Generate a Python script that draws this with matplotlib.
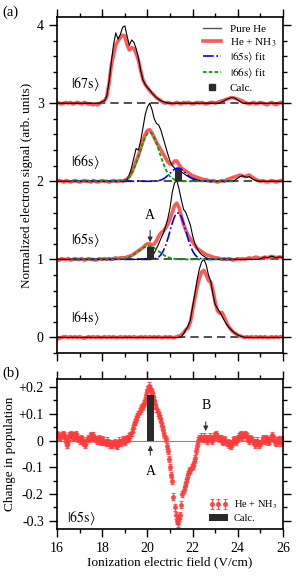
import numpy as np
import matplotlib
matplotlib.use('Agg')
import matplotlib.pyplot as plt
from matplotlib.ticker import MultipleLocator, FixedLocator, FixedFormatter

plt.rcParams['font.family'] = 'serif'
plt.rcParams['font.serif'] = ['Liberation Serif', 'DejaVu Serif']
plt.rcParams['mathtext.fontset'] = 'stix'

# ---- panel (a): field grid, 0.1 V/cm steps
field = np.round(np.linspace(16, 26, 101), 2)
Z = [0.0] * 10

red_67 = [0.01, 0.0, -0.01, 0.0, 0.01, 0.0, 0.01, -0.01, 0.0, 0.01,
          0.0, -0.01, 0.01, 0.0, -0.01, -0.01, -0.02, -0.01, -0.02, 0.0,
          0.02, 0.03, 0.08, 0.25, 0.48, 0.62, 0.75, 0.80, 0.84, 0.87,
          0.86, 0.75, 0.68, 0.71, 0.70, 0.64, 0.55, 0.42, 0.30, 0.24,
          0.20, 0.16, 0.13, 0.10, 0.07, 0.05, 0.03, 0.01, 0.0, 0.01,
          0.0, -0.01, 0.0, 0.01, 0.0, -0.01, 0.01, 0.0, 0.01, 0.0,
          -0.01, 0.0, 0.01, 0.0, 0.01, 0.0, -0.01, 0.0, 0.01, 0.01,
          0.0, 0.01, 0.02, 0.03, 0.04, 0.05, 0.06, 0.07, 0.07, 0.06,
          0.05, 0.04, 0.03, 0.01, 0.0, -0.01, 0.0, 0.01, -0.01, 0.0,
          0.01, 0.0, -0.01, -0.02, 0.0, 0.01, -0.01, -0.02, 0.0, 0.01,
          -0.01]
black_67 = (Z + Z
            + [0.02, 0.03, 0.09, 0.27, 0.52, 0.75, 0.90, 0.82, 0.88, 0.97,
               0.99, 0.86, 0.74, 0.81, 0.78, 0.70, 0.58, 0.42, 0.30, 0.24,
               0.20, 0.17, 0.13, 0.10, 0.07, 0.05, 0.03, 0.02, 0.01, 0.0]
            + Z + Z
            + [0.0, 0.0, 0.0, 0.02, 0.03, 0.05, 0.06, 0.07, 0.07, 0.06,
               0.04, 0.02, 0.0, 0.0, 0.0, 0.0, 0.0, 0.0, 0.0, 0.0]
            + Z + [0.0])

red_66 = [0.0, 0.01, 0.0, -0.01, 0.01, 0.0, -0.01, 0.0, 0.01, 0.0,
          -0.01, 0.0, 0.01, 0.0, 0.0, -0.01, 0.01, 0.0, -0.01, 0.0,
          0.01, 0.0, 0.0, -0.01, 0.0, 0.01, 0.0, 0.0, 0.01, 0.0,
          0.01, 0.03, 0.06, 0.11, 0.18, 0.26, 0.33, 0.42, 0.52, 0.60,
          0.65, 0.66, 0.62, 0.56, 0.50, 0.45, 0.40, 0.35, 0.30, 0.25,
          0.22, 0.22, 0.26, 0.26, 0.21, 0.17, 0.15, 0.13, 0.11, 0.09,
          0.07, 0.06, 0.05, 0.04, 0.03, 0.02, 0.02, 0.01, 0.0, 0.01,
          0.0, -0.01, 0.0, 0.01, 0.0, 0.02, 0.03, 0.04, 0.05, 0.06,
          0.07, 0.08, 0.07, 0.06, 0.07, 0.08, 0.06, 0.04, 0.02, 0.01,
          0.0, 0.01, 0.0, -0.01, 0.0, 0.01, 0.0, -0.01, 0.0, 0.01,
          0.0]
black_66 = (Z + Z + Z
            + [0.0, 0.02, 0.08, 0.18, 0.30, 0.42, 0.40, 0.52, 0.68, 0.85,
               0.95, 1.00, 0.92, 0.80, 0.74, 0.72, 0.65, 0.55, 0.45, 0.35,
               0.26, 0.20, 0.17, 0.15, 0.14, 0.12, 0.10, 0.08, 0.06, 0.05,
               0.04, 0.03, 0.02, 0.01, 0.0, 0.0, 0.0, 0.0, 0.0, 0.0,
               0.0, 0.0, 0.0, 0.0, 0.0, 0.0, 0.0, 0.0, 0.0, 0.02,
               0.04, 0.06, 0.07, 0.06, 0.05, 0.06, 0.04, 0.02, 0.01, 0.0]
            + Z + [0.0])

red_65 = [0.0, -0.01, 0.01, 0.0, 0.0, 0.01, -0.01, 0.0, 0.01, 0.0,
          0.0, 0.01, -0.01, 0.0, 0.01, 0.0, 0.0, -0.01, 0.0, 0.01,
          0.0, 0.01, 0.0, 0.01, 0.0, 0.01, 0.02, 0.01, 0.02, 0.02,
          0.02, 0.03, 0.04, 0.05, 0.07, 0.09, 0.11, 0.13, 0.15, 0.18,
          0.20, 0.20, 0.18, 0.20, 0.24, 0.30, 0.34, 0.36, 0.40, 0.45,
          0.52, 0.60, 0.69, 0.72, 0.66, 0.55, 0.45, 0.37, 0.31, 0.26,
          0.22, 0.18, 0.14, 0.12, 0.10, 0.08, 0.06, 0.05, 0.04, 0.03,
          0.02, 0.02, 0.01, 0.0, 0.01, 0.0, 0.01, 0.0, -0.01, 0.0,
          0.01, 0.0, 0.01, 0.0, 0.01, 0.02, 0.01, 0.02, 0.03, 0.02,
          0.01, 0.02, 0.03, 0.02, 0.03, 0.04, 0.03, 0.02, 0.03, 0.03,
          0.02]
black_65 = (Z + Z + Z
            + [0.0, 0.0, 0.0, 0.0, 0.0, 0.0, 0.0, 0.0, 0.0, 0.01,
               0.01, 0.02, 0.04, 0.08, 0.14, 0.20, 0.27, 0.33, 0.42, 0.52,
               0.66, 0.86, 0.98, 1.01, 0.90, 0.76, 0.64, 0.60, 0.52, 0.44,
               0.30, 0.20, 0.14, 0.09, 0.06, 0.04, 0.02, 0.01, 0.0, 0.0]
            + Z + Z
            + [0.01, 0.02, 0.03, 0.02, 0.03, 0.04, 0.03, 0.02, 0.03, 0.03,
               0.02])

red_64 = [-0.02, -0.01, 0.0, 0.01, 0.01, 0.0, 0.01, 0.0, 0.01, 0.0,
          0.01, 0.0, -0.01, 0.0, 0.01, 0.0, 0.01, 0.0, 0.01, 0.0,
          0.0, 0.01, 0.0, 0.01, 0.0, 0.01, 0.0, 0.0, 0.01, 0.0,
          0.01, 0.0, 0.01, 0.0, 0.01, 0.0, 0.0, 0.01, 0.0, 0.01,
          0.0, 0.01, 0.0, 0.01, 0.0, 0.01, 0.0, 0.0, 0.01, 0.0,
          0.01, 0.0, 0.0, 0.01, 0.02, 0.03, 0.06, 0.10, 0.12, 0.20,
          0.35, 0.50, 0.65, 0.76, 0.84, 0.86, 0.80, 0.73, 0.71, 0.60,
          0.45, 0.34, 0.31, 0.32, 0.26, 0.19, 0.14, 0.10, 0.07, 0.05,
          0.03, 0.02, 0.01, 0.0, 0.01, 0.0, 0.01, 0.0, 0.01, 0.0,
          0.01, 0.0, 0.01, 0.0, 0.0, 0.01, 0.0, 0.01, 0.0, 0.01,
          0.01]
black_64 = (Z + Z + Z + Z + Z
            + [0.0, 0.0, 0.0, 0.0, 0.0, 0.01, 0.05, 0.10, 0.15, 0.22,
               0.40, 0.56, 0.74, 0.88, 0.97, 1.00, 0.93, 0.80, 0.72, 0.55,
               0.42, 0.37, 0.33, 0.27, 0.22, 0.17, 0.13, 0.10, 0.07, 0.05,
               0.03, 0.02, 0.01, 0.0, 0.0, 0.0, 0.0, 0.0, 0.0, 0.0]
            + Z + [0.0])

# fitted components
fit66_in_66 = (Z + Z
               + [0.0, 0.0, 0.0, 0.0, 0.0, 0.0, 0.0, 0.0, 0.005, 0.01,
                  0.02, 0.04, 0.06, 0.10, 0.16, 0.23, 0.31, 0.40, 0.49, 0.56,
                  0.61, 0.63, 0.61, 0.56, 0.49, 0.40, 0.31, 0.23, 0.16, 0.10,
                  0.06, 0.04, 0.02, 0.01, 0.005, 0.0, 0.0, 0.0, 0.0, 0.0]
               + Z + Z + Z + Z + [0.0])
fit65_in_66 = (Z + Z + Z + Z
               + [0.0, 0.0, 0.001, 0.002, 0.004, 0.009, 0.017, 0.030, 0.049, 0.074,
                  0.103, 0.132, 0.155, 0.168, 0.168, 0.155, 0.132, 0.103, 0.074, 0.049,
                  0.030, 0.017, 0.009, 0.004, 0.002, 0.001, 0.0, 0.0, 0.0, 0.0]
               + Z + Z + Z + [0.0])
fit65_in_65 = (Z + Z + Z + Z
               + [0.0, 0.0, 0.003, 0.007, 0.015, 0.031, 0.06, 0.107, 0.175, 0.262,
                  0.364, 0.465, 0.547, 0.594, 0.594, 0.547, 0.465, 0.364, 0.262, 0.175,
                  0.107, 0.06, 0.031, 0.015, 0.007, 0.003, 0.0, 0.0, 0.0, 0.0]
               + Z + Z + Z + [0.0])
fit66_in_65 = (Z + Z
               + [0.0, 0.0, 0.0, 0.0, 0.0, 0.0, 0.0, 0.002, 0.004, 0.006,
                  0.011, 0.018, 0.029, 0.042, 0.060, 0.081, 0.103, 0.126, 0.146, 0.161,
                  0.169, 0.169, 0.161, 0.146, 0.126, 0.103, 0.081, 0.060, 0.042, 0.029,
                  0.018, 0.011, 0.006, 0.004, 0.002, 0.0, 0.0, 0.0, 0.0, 0.0]
               + Z + Z + Z + Z + [0.0])

states = ['67s', '66s', '65s', '64s']
offsets = [3, 2, 1, 0]
red_sets = [red_67, red_66, red_65, red_64]
black_sets = [black_67, black_66, black_65, black_64]

calc_field = [21.37, 20.13]
calc_height = [0.16, 0.16]
calc_offset = [2, 1]

# ---- panel (b): change in population, 0.05 V/cm steps
field_b = np.round(np.linspace(16, 26, 201), 2)
change = [0.025, 0.02, 0.015, 0.01, 0.02, 0.025, 0.02, 0.01, -0.005, -0.015,
          0.0, 0.02, 0.025, 0.015, 0.02, 0.01, 0.02, 0.025, 0.015, 0.005,
          0.0, 0.01, 0.005, -0.005, -0.01, -0.015, 0.0, 0.01, 0.005, 0.015,
          0.02, 0.015, 0.02, 0.01, 0.005, 0.0, 0.005, 0.01, 0.0, -0.005,
          0.005, 0.0, -0.005, -0.01, 0.0, -0.005, -0.01, -0.015, -0.01, -0.015,
          -0.01, -0.005, -0.015, -0.02, -0.01, 0.0, -0.005, -0.01, 0.005, 0.0,
          -0.005, 0.005, 0.01, 0.005, 0.015, 0.02, 0.03, 0.045, 0.06, 0.07,
          0.08, 0.09, 0.10, 0.11, 0.12, 0.125, 0.13, 0.14, 0.15, 0.17,
          0.19, 0.205, 0.195, 0.185, 0.18, 0.165, 0.15, 0.135, 0.12, 0.105,
          0.095, 0.085, 0.07, 0.055, 0.04, 0.02, 0.005, -0.02, -0.04, -0.07,
          -0.1, -0.13, -0.15, -0.21, -0.25, -0.28, -0.3, -0.31, -0.29, -0.28,
          -0.24, -0.2, -0.185, -0.17, -0.155, -0.14, -0.125, -0.115, -0.11, -0.1,
          -0.095, -0.08, -0.065, -0.04, -0.02, 0.0, 0.01, 0.015, 0.01, 0.005,
          0.015, 0.01, 0.005, 0.0, 0.01, 0.015, 0.005, 0.0, 0.01, 0.015,
          0.02, 0.025, 0.015, 0.01, 0.005, 0.01, 0.0, -0.005, 0.005, 0.0,
          -0.01, -0.005, -0.015, -0.01, -0.02, -0.01, 0.0, 0.005, -0.005, 0.005,
          0.01, 0.015, 0.02, 0.025, 0.015, 0.02, 0.025, 0.02, 0.015, 0.005,
          0.0, 0.01, 0.005, 0.0, -0.005, -0.015, -0.005, 0.0, -0.01, -0.015,
          -0.01, 0.0, 0.01, 0.005, 0.0, 0.01, 0.005, -0.005, 0.0, 0.01,
          0.02, 0.01, 0.005, -0.005, -0.01, 0.0, 0.005, -0.01, 0.0, 0.005,
          0.0]
change_err = 0.012
calc_b_field = [20.13]
calc_b_height = [0.17]

RED = '#ff3b3b'
fig = plt.figure(figsize=(2.97, 5.76), dpi=100)
ax1 = fig.add_axes([0.192, 0.387, 0.761, 0.583])
ax2 = fig.add_axes([0.192, 0.082, 0.761, 0.260])

for st, off, r, b in zip(states, offsets, red_sets, black_sets):
    ax1.axhline(off, color='#333333', ls=(0, (5, 3)), lw=1.2, zorder=1)
    ax1.plot(field, np.array(r) + off, color=RED, lw=2.6, alpha=0.85, zorder=2,
             solid_capstyle='round')
    ax1.plot(field, np.array(b) + off, color='black', lw=0.8, zorder=3)
    ax1.text(16.6, off + 0.25, r'$|\mathrm{%s}\rangle$' % st, fontsize=10,
             va='center', ha='left')

fit_mask = (field >= 16.6) & (field <= 23.8)
ax1.plot(field[fit_mask], np.array(fit65_in_66)[fit_mask] + 2, color='#0000ff',
         ls='-.', lw=1.2, zorder=4)
ax1.plot(field[fit_mask], np.array(fit66_in_66)[fit_mask] + 2, color='#00a000',
         ls=(0, (2, 1.2)), lw=1.3, zorder=4)
ax1.plot(field[fit_mask], np.array(fit65_in_65)[fit_mask] + 1, color='#0000ff',
         ls='-.', lw=1.2, zorder=4)
ax1.plot(field[fit_mask], np.array(fit66_in_65)[fit_mask] + 1, color='#00a000',
         ls=(0, (2, 1.2)), lw=1.3, zorder=4)
ax1.bar(calc_field, calc_height, bottom=calc_offset, width=0.3,
        color='#2a2a2a', zorder=5)

ax1.annotate('A', xy=(20.12, 1.22), xytext=(20.12, 1.56), ha='center',
             va='center', fontsize=10,
             arrowprops=dict(arrowstyle='-|>', color='#333333', lw=0.8,
                             mutation_scale=7, shrinkA=4, shrinkB=0))

# legend (a)
ax1.plot([], [], color='#555555', lw=1.0, label='Pure He')
ax1.plot([], [], color=RED, lw=2.6, alpha=0.85, label='He + NH$_3$')
ax1.plot([], [], color='#0000ff', ls='-.', lw=1.2, label=r'$|\mathrm{65s}\rangle$ fit')
ax1.plot([], [], color='#00a000', ls=(0, (2, 1.2)), lw=1.3,
         label=r'$|\mathrm{66s}\rangle$ fit')
ax1.plot([], [], 's', color='#2a2a2a', ms=5, label='Calc.')
ax1.legend(loc='upper right', frameon=False, fontsize=8, handlelength=1.6,
           handletextpad=0.8, labelspacing=0.22, borderaxespad=0.2,
           bbox_to_anchor=(1.0, 1.0))

ax1.set_xlim(16, 26)
ax1.set_ylim(-0.2, 4.1)
ax1.yaxis.set_major_locator(MultipleLocator(1))
ax1.yaxis.set_minor_locator(MultipleLocator(0.2))
ax1.set_ylabel('Normalized electron signal (arb. units)', fontsize=9.5, labelpad=3)

# panel (b)
ax2.axhline(0, color='#888888', lw=0.8, zorder=1)
ax2.errorbar(field_b, change, yerr=change_err, fmt='o', ms=2.6, color=RED,
             alpha=0.85, elinewidth=0.8, capsize=1.3, capthick=0.8, zorder=2,
             label='He + NH$_3$')
ax2.bar(calc_b_field, calc_b_height, width=0.3, color='#2a2a2a', zorder=3,
        label='Calc.')
ax2.annotate('A', xy=(20.13, -0.018), xytext=(20.13, -0.115), ha='center',
             va='center', fontsize=10,
             arrowprops=dict(arrowstyle='-|>', color='#333333', lw=0.8,
                             mutation_scale=7, shrinkA=5, shrinkB=0))
ax2.annotate('B', xy=(22.58, 0.035), xytext=(22.58, 0.13), ha='center',
             va='center', fontsize=10,
             arrowprops=dict(arrowstyle='-|>', color='#333333', lw=0.8,
                             mutation_scale=7, shrinkA=5, shrinkB=0))
ax2.text(16.45, -0.29, r'$|\mathrm{65s}\rangle$', fontsize=10, va='center')
ax2.legend(loc='lower right', frameon=False, fontsize=7.5,
           numpoints=3, handlelength=1.8, handletextpad=0.6, labelspacing=0.25,
           borderaxespad=0.15)

ax2.set_xlim(16, 26)
ax2.set_ylim(-0.33, 0.23)
ax2.yaxis.set_major_locator(FixedLocator([-0.3, -0.2, -0.1, 0, 0.1, 0.2]))
ax2.yaxis.set_major_formatter(FixedFormatter(['-0.3', '-0.2', '-0.1', '0', '+0.1', '+0.2']))
ax2.yaxis.set_minor_locator(MultipleLocator(0.05))
ax2.set_ylabel('Change in population', fontsize=9.5, labelpad=2)
ax2.set_xlabel('Ionization electric field (V/cm)', fontsize=9.5, labelpad=1)

for ax in (ax1, ax2):
    ax.xaxis.set_major_locator(MultipleLocator(2))
    ax.xaxis.set_minor_locator(MultipleLocator(1))
    ax.tick_params(which='both', direction='out', top=True, right=True,
                   labelsize=10, width=1.0)
    ax.tick_params(which='major', length=6)
    ax.tick_params(which='minor', length=3)
    for sp in ax.spines.values():
        sp.set_linewidth(1.2)
ax1.tick_params(labelbottom=False)

fig.text(0.008, 0.978, '(a)', fontsize=10.5, va='center')
fig.text(0.008, 0.352, '(b)', fontsize=10.5, va='center')

fig.savefig('out.png', dpi=100)
